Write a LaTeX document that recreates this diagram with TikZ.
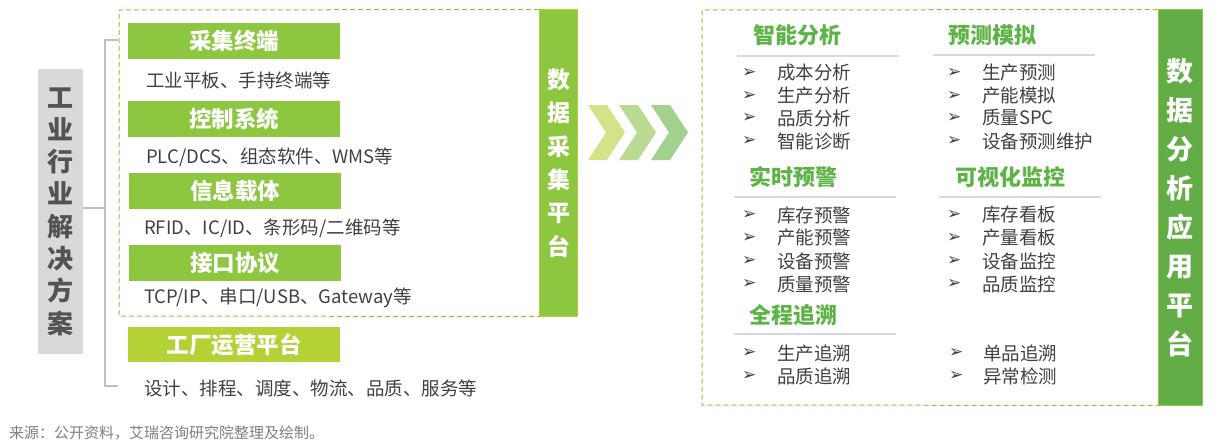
\documentclass[tikz,border=0pt]{standalone}
\usepackage{fontspec}
\setmainfont{Noto Sans CJK SC}
\newfontfamily\symfont{DejaVu Sans}
\definecolor{gA}{HTML}{8DC63F}
\definecolor{gB}{HTML}{B2D235}
\definecolor{gC}{HTML}{62AD45}
\definecolor{gH}{HTML}{5DB446}
\definecolor{txt}{HTML}{404040}
\definecolor{grayfill}{HTML}{D9D9D9}
\definecolor{brk}{HTML}{BFBFBF}
\definecolor{uline}{HTML}{D9D9D9}
\definecolor{chA}{HTML}{D4E38A}
\definecolor{chB}{HTML}{BADB91}
\definecolor{chC}{HTML}{A2D08D}
\definecolor{foot}{HTML}{7F7F7F}
\tikzset{
  hdr/.style={fill=gA, minimum width=212pt, minimum height=36pt, text=white, inner sep=0pt, anchor=north west, font=\bfseries\fontsize{22.5}{24}\selectfont},
  desc/.style={anchor=west, inner sep=0pt, text=txt, font=\fontsize{18.5}{20}\selectfont},
  sec/.style={anchor=west, inner sep=0pt, text=gH, font=\bfseries\fontsize{22}{24}\selectfont},
  itm/.style={anchor=west, inner sep=0pt, text=txt, font=\fontsize{18.5}{20}\selectfont},
  bulmark/.style={anchor=west, inner sep=0pt, text=txt, font=\symfont\fontsize{17}{17}\selectfont},
  dashbox/.style={draw=gA, line width=1pt, dash pattern=on 5pt off 3pt},
  uln/.style={draw=uline, line width=1.5pt},
  brkline/.style={draw=brk, line width=1.3pt},
}
\begin{document}
\begin{tikzpicture}[x=1pt,y=-1pt]
\useasboundingbox (0,0) rectangle (1229,444);
% left gray box
\node[fill=grayfill, minimum width=45pt, minimum height=285pt, inner sep=0pt, align=center, text=txt!90, font=\bfseries\fontsize{26}{32.3}\selectfont] (left) at (60.5,211.5) {工\\业\\行\\业\\解\\决\\方\\案};
% bracket
\coordinate (bt) at (118,40);
\coordinate (bb) at (118,386);
\coordinate (bm) at (105,208);
\draw[brkline] (bt) -| (bm) |- (bb);
\draw[brkline] (left.east |- bm) -- (bm);
% left dashed box and bar
\node[fill=gA, draw=gB, line width=1pt, minimum width=38pt, minimum height=306pt, inner sep=0pt, align=center, text=white, font=\bfseries\fontsize{23}{33.4}\selectfont] (bar1) at (558.5,163) {数\\据\\采\\集\\平\\台};
\draw[dashbox] (bar1.north west) -- (119,10) -- (119,316) -- (bar1.south west);
% headers
\node[hdr] (h1) at (128,23) {采集终端};
\node[desc] (d1) at (146,80) {工业平板、手持终端等};
\node[hdr] (h2) at (128,101) {控制系统};
\node[desc] (d2) at (146,157) {PLC/DCS、组态软件、WMS等};
\node[hdr] (h3) at (129,173) {信息载体};
\node[desc] (d3) at (144,228) {RFID、IC/ID、条形码/二维码等};
\node[hdr] (h4) at (129,245) {接口协议};
\node[desc] (d4) at (144,298) {TCP/IP、串口/USB、Gateway等};
\node[hdr, fill=gB, minimum height=35pt] (h5) at (128,327) {工厂运营平台};
\node[desc] (d5) at (144,388) {设计、排程、调度、物流、品质、服务等};
% chevrons
\foreach \x/\c in {588/chA, 619/chB, 651/chC}{
  \fill[\c] (\x,105) -- (\x+19,105) -- (\x+37,132.5) -- (\x+19,160) -- (\x,160) -- (\x+18,132.5) -- cycle;
}
% right dashed box and bar
\node[fill=gC, draw=gA, line width=1pt, minimum width=44pt, minimum height=395pt, inner sep=0pt, align=center, text=white, font=\bfseries\fontsize{27}{39}\selectfont] (bar2) at (1180,207.5) {数\\据\\分\\析\\应\\用\\平\\台};
\draw[dashbox] (bar2.north west) -- (702,10) -- (702,405) -- (bar2.south west);
% section headings
\node[sec] (s1) at (753,35) {智能分析};
\node[sec] (s2) at (948,35) {预测模拟};
\node[sec] (s3) at (749,177) {实时预警};
\node[sec] (s4) at (955,177) {可视化监控};
\node[sec] (s5) at (749,315) {全程追溯};
\draw[uln] (737,56) -- (899,56);
\draw[uln] (933,55) -- (1095,55);
\draw[uln] (734,197) -- (896,197);
\draw[uln] (939,197) -- (1101,197);
\draw[uln] (734,334) -- (896,334);
% items
\foreach \y/\t [count=\i] in {73/成本分析, 96/生产分析, 118/品质分析, 141/智能诊断}{
  \node[bulmark] (ma\i) at (742,\y) {➢}; \node[itm] (ia\i) at (777,\y) {\t};}
\foreach \y/\t [count=\i] in {73/生产预测, 96/产能模拟, 118/质量SPC, 141/设备预测维护}{
  \node[bulmark] (mb\i) at (947,\y) {➢}; \node[itm] (ib\i) at (982,\y) {\t};}
\foreach \y/\t [count=\i] in {215/库存预警, 238/产能预警, 261/设备预警, 284/质量预警}{
  \node[bulmark] (mc\i) at (742,\y) {➢}; \node[itm] (ic\i) at (777,\y) {\t};}
\foreach \y/\t [count=\i] in {215/库存看板, 238/产量看板, 261/设备监控, 284/品质监控}{
  \node[bulmark] (md\i) at (947,\y) {➢}; \node[itm] (id\i) at (982,\y) {\t};}
\foreach \y/\t [count=\i] in {353/生产追溯, 376/品质追溯}{
  \node[bulmark] (me\i) at (742,\y) {➢}; \node[itm] (ie\i) at (777,\y) {\t};}
\foreach \y/\t [count=\i] in {353/单品追溯, 376/异常检测}{
  \node[bulmark] (mf\i) at (949,\y) {➢}; \node[itm] (if\i) at (983,\y) {\t};}
% footer
\node[anchor=west, inner sep=0pt, text=foot, font=\fontsize{15}{16}\selectfont] (src) at (9,433) {来源：公开资料，艾瑞咨询研究院整理及绘制。};
\end{tikzpicture}
\end{document}
